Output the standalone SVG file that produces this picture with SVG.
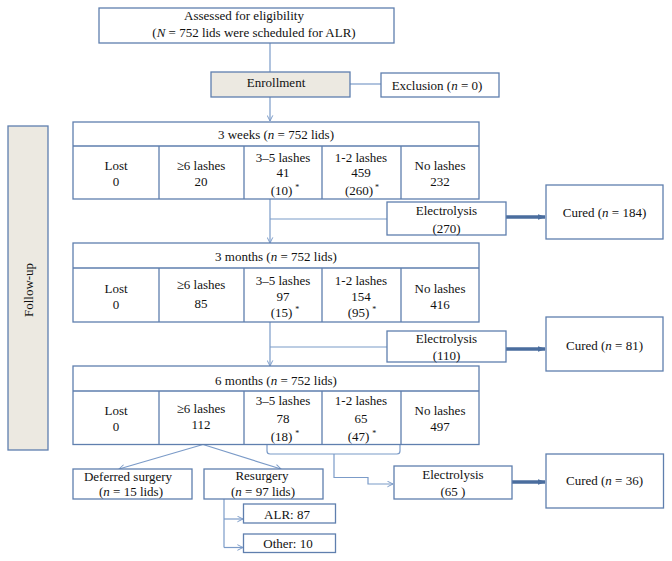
<svg xmlns="http://www.w3.org/2000/svg" width="672" height="561" viewBox="0 0 672 561">
<defs>
<style>
.b{fill:#fff;stroke:#5f7fae;stroke-width:1.3}
.f{fill:#ece9e1;stroke:#5f7fae;stroke-width:1.3}
.l{fill:none;stroke:#7b9bc8;stroke-width:1.2}
.t{font-family:"Liberation Serif","Times New Roman",serif;font-size:13px;fill:#111;text-anchor:middle}
.s{font-size:8px}
.thick{fill:none;stroke:#4a6d9e;stroke-width:3.5}
</style>
<marker id="v" viewBox="0 0 10 10" refX="9" refY="5" markerWidth="7" markerHeight="7" orient="auto" markerUnits="userSpaceOnUse">
<path d="M1,1 L9,5 L1,9" fill="none" stroke="#7b9bc8" stroke-width="1.4"/>
</marker>
<marker id="h" viewBox="0 0 10 10" refX="9" refY="5" markerWidth="8" markerHeight="8" orient="auto" markerUnits="userSpaceOnUse">
<path d="M0,1.5 L10,5 L0,8.5 Z" fill="#4a6d9e"/>
</marker>
</defs>
<rect width="672" height="561" fill="#fff"/>

<g id="connectors">
<line class="l" x1="270" y1="43" x2="270" y2="72"/>
<line class="l" x1="350" y1="84" x2="381" y2="84"/>
<line class="l" x1="270" y1="97" x2="270" y2="121" marker-end="url(#v)"/>
<line class="l" x1="270" y1="199" x2="270" y2="243" marker-end="url(#v)"/>
<line class="l" x1="270" y1="219" x2="387" y2="219"/>
<line class="l" x1="270" y1="322" x2="270" y2="366" marker-end="url(#v)"/>
<line class="l" x1="270" y1="347" x2="387" y2="347"/>
<line class="l" x1="203" y1="444.5" x2="119" y2="469" marker-end="url(#v)"/>
<line class="l" x1="203" y1="444.5" x2="281" y2="469" marker-end="url(#v)"/>
<path class="l" d="M267,444.5 V451 Q267,454 270,454 H397 Q400,454 400,451 V444.5"/>
<path class="l" d="M334,454 V477.5 H368 V484 H393" marker-end="url(#v)"/>
<path class="l" d="M224,499 V547.5"/>
<line class="l" x1="224" y1="519" x2="243" y2="519" marker-end="url(#v)"/>
<line class="l" x1="224" y1="547.5" x2="243" y2="547.5" marker-end="url(#v)"/>
<line class="thick" x1="506" y1="217" x2="545" y2="217" marker-end="url(#h)"/>
<line class="thick" x1="506" y1="349" x2="545" y2="349" marker-end="url(#h)"/>
<line class="thick" x1="512" y1="482" x2="545" y2="482" marker-end="url(#h)"/>
</g>

<g id="assessed">
<rect class="b" x="99" y="8" width="295" height="35"/>
<text class="t" x="244" y="20">Assessed for eligibility</text>
<text class="t" x="254" y="36.5">(<tspan font-style="italic">N</tspan> = 752 lids were scheduled for ALR)</text>
</g>

<g id="enrollment">
<rect class="f" x="211" y="72" width="139" height="25"/>
<text class="t" x="276" y="87">Enrollment</text>
</g>

<g id="exclusion">
<rect class="b" x="381" y="73" width="118" height="24"/>
<text class="t" x="437" y="90">Exclusion (<tspan font-style="italic">n</tspan> = 0)</text>
</g>

<g id="followup">
<rect class="f" x="8" y="126" width="40" height="324"/>
<text class="t" transform="translate(32.5,290) rotate(-90)">Follow-up</text>
</g>

<g id="week3">
<rect class="b" x="73" y="122" width="406" height="77"/>
<path class="l" style="stroke:#5f7fae;stroke-width:1.3" d="M73,146 H479 M159,146 V199 M244,146 V199 M322,146 V199 M401,146 V199"/>
<text class="t" x="276" y="138.5">3 weeks (<tspan font-style="italic">n</tspan> = 752 lids)</text>
<text class="t" x="116" y="170">Lost</text><text class="t" x="116" y="185.5">0</text>
<text class="t" x="201" y="170">≥6 lashes</text><text class="t" x="201" y="185.5">20</text>
<text class="t" x="283" y="162">3–5 lashes</text><text class="t" x="283" y="177">41</text>
<text class="t" x="285" y="194.5">(10)<tspan class="s" dx="3" dy="-5">*</tspan></text>
<text class="t" x="361" y="162">1-2 lashes</text><text class="t" x="361" y="177">459</text>
<text class="t" x="362" y="194.5">(260)<tspan class="s" dx="2" dy="-5">*</tspan></text>
<text class="t" x="440" y="170">No lashes</text><text class="t" x="440" y="185.5">232</text>
</g>

<g id="electrolysis1">
<rect class="b" x="387" y="202" width="119" height="33"/>
<text class="t" x="446.5" y="214.5">Electrolysis</text>
<text class="t" x="446.5" y="232.5">(270)</text>
</g>
<g id="cured1">
<rect class="b" x="546" y="185" width="117" height="54"/>
<text class="t" x="604.5" y="217">Cured (<tspan font-style="italic">n</tspan> = 184)</text>
</g>

<g id="month3">
<rect class="b" x="73" y="243" width="406" height="79"/>
<path class="l" style="stroke:#5f7fae;stroke-width:1.3" d="M73,268 H479 M159,268 V322 M244,268 V322 M322,268 V322 M401,268 V322"/>
<text class="t" x="276" y="261">3 months (<tspan font-style="italic">n</tspan> = 752 lids)</text>
<text class="t" x="116" y="293">Lost</text><text class="t" x="116" y="308.5">0</text>
<text class="t" x="201" y="289">≥6 lashes</text><text class="t" x="201" y="308">85</text>
<text class="t" x="283" y="285">3–5 lashes</text><text class="t" x="283" y="300.5">97</text>
<text class="t" x="285" y="316.5">(15)<tspan class="s" dx="3" dy="-5">*</tspan></text>
<text class="t" x="361" y="285">1-2 lashes</text><text class="t" x="361" y="300.5">154</text>
<text class="t" x="362" y="316.5">(95)<tspan class="s" dx="3" dy="-5">*</tspan></text>
<text class="t" x="440" y="293">No lashes</text><text class="t" x="440" y="308.5">416</text>
</g>

<g id="electrolysis2">
<rect class="b" x="387" y="331" width="119" height="31"/>
<text class="t" x="446.5" y="343">Electrolysis</text>
<text class="t" x="446.5" y="359.5">(110)</text>
</g>
<g id="cured2">
<rect class="b" x="546" y="317" width="117" height="54"/>
<text class="t" x="604.5" y="349.5">Cured (<tspan font-style="italic">n</tspan> = 81)</text>
</g>

<g id="month6">
<rect class="b" x="73" y="366" width="406" height="78.5"/>
<path class="l" style="stroke:#5f7fae;stroke-width:1.3" d="M73,391 H479 M159,391 V444.5 M244,391 V444.5 M322,391 V444.5 M401,391 V444.5"/>
<text class="t" x="276" y="384.5">6 months (<tspan font-style="italic">n</tspan> = 752 lids)</text>
<text class="t" x="116" y="415">Lost</text><text class="t" x="116" y="430.5">0</text>
<text class="t" x="201" y="413">≥6 lashes</text><text class="t" x="201" y="429">112</text>
<text class="t" x="283" y="405">3–5 lashes</text><text class="t" x="283" y="423">78</text>
<text class="t" x="285" y="440.5">(18)<tspan class="s" dx="3" dy="-5">*</tspan></text>
<text class="t" x="361" y="405">1-2 lashes</text><text class="t" x="361" y="423">65</text>
<text class="t" x="362" y="440.5">(47)<tspan class="s" dx="3" dy="-5">*</tspan></text>
<text class="t" x="440" y="415">No lashes</text><text class="t" x="440" y="430.5">497</text>
</g>

<g id="deferred">
<rect class="b" x="73" y="469" width="119" height="30"/>
<text class="t" x="128" y="481">Deferred surgery</text>
<text class="t" x="131" y="496">(<tspan font-style="italic">n</tspan> = 15 lids)</text>
</g>
<g id="resurgery">
<rect class="b" x="204" y="469" width="119" height="30"/>
<text class="t" x="262" y="479.5">Resurgery</text>
<text class="t" x="263" y="495.5">(<tspan font-style="italic">n</tspan> = 97 lids)</text>
</g>
<g id="alr">
<rect class="b" x="243.5" y="504" width="92" height="19"/>
<text class="t" x="287" y="518.5">ALR: 87</text>
</g>
<g id="other">
<rect class="b" x="243.5" y="534" width="92" height="18.5"/>
<text class="t" x="288" y="548">Other: 10</text>
</g>

<g id="electrolysis3">
<rect class="b" x="394" y="466" width="118" height="33"/>
<text class="t" x="453" y="479">Electrolysis</text>
<text class="t" x="453" y="495.5">(65 )</text>
</g>
<g id="cured3">
<rect class="b" x="546" y="454" width="117.5" height="54"/>
<text class="t" x="604.5" y="485">Cured (<tspan font-style="italic">n</tspan> = 36)</text>
</g>
</svg>
